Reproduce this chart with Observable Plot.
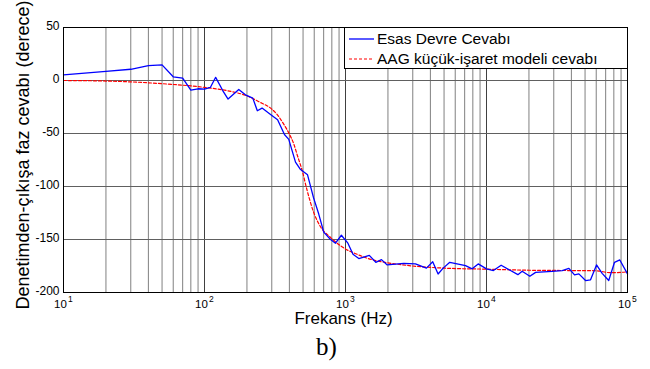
<!DOCTYPE html>
<html>
<head>
<meta charset="utf-8">
<script src="https://cdn.jsdelivr.net/npm/d3@7"></script>
<script src="https://cdn.jsdelivr.net/npm/@observablehq/plot@0.6"></script>
<style>
  body { margin: 0; background: #fff; }
  #wrap { position: relative; width: 650px; height: 369px; font-family: "Liberation Sans", Arial, sans-serif; }
  #legend { position: absolute; left: 344px; top: 27px; width: 282px; height: 40px; border: 1px solid #000; background: #fff; font-size: 15.5px; color: #000; }
  .row { position: absolute; left: 0; height: 20px; width: 100%; }
  .row svg { position: absolute; left: 4px; top: 0; }
  .row span { position: absolute; left: 32px; top: 1px; line-height: 18px; white-space: nowrap; }
</style>
</head>
<body>
<div id="wrap">
  <div id="chart"></div>
  <div id="legend"></div>
</div>
<script>
// ---- data ----
const blueFreq = [10, 20, 30, 40, 50, 60, 70, 80, 90, 100, 110, 120, 135, 147, 175, 195, 220, 237, 256, 294, 330, 346, 369, 396, 442, 480, 538, 593, 646, 701, 783, 849, 935, 1040, 1130, 1243, 1475, 1640, 1800, 1977, 2590, 3134, 3750, 4155, 4537, 4927, 5490, 7100, 7915, 8730, 10000, 11200, 12700, 14800, 16700, 17900, 20300, 22300, 29200, 34400, 38400, 42100, 45200, 50400, 54700, 60300, 66100, 73600, 80900, 88200, 100000];
const blueVal = [5.3, 8.6, 10.6, 14.0, 14.7, 3.5, 2.2, -9.0, -7.8, -8.2, -6.6, 3.0, -9.7, -17.5, -8.5, -13.5, -16.6, -28.5, -26, -32, -37, -43, -51, -55.5, -77, -84, -89, -110.5, -126, -143, -150, -153.5, -146, -153.5, -164, -168, -165, -171.5, -169, -174, -172.5, -173, -177, -171, -182.5, -177, -171.5, -174.6, -177.7, -173, -177.7, -179.3, -174.3, -179.3, -183.2, -180, -184.7, -181, -180, -179.3, -177.2, -183.4, -182.4, -188.7, -188, -174, -181.9, -188.7, -171.5, -169.3, -182.4];

const redFreq = [10, 20, 50, 100, 150, 200, 243, 300, 327, 360, 396, 430, 454, 493, 535, 597, 665, 783, 973, 1210, 1585, 2000, 3000, 5000, 10000, 20000, 40000, 60000, 75000, 90000, 100000];
const redVal = [0, -0.5, -3, -6.5, -10, -14.5, -20, -27, -32, -40, -49.5, -60, -70, -85, -104, -125, -138, -148, -158, -164, -169.5, -172, -175, -177, -178, -179, -179.3, -179.5, -181.3, -181, -180.5];

const yTicks = [-200, -150, -100, -50, 0, 50];
const xDecades = [10, 100, 1000, 10000, 100000];
const xExponents = ["1", "2", "3", "4", "5"];
const minorMult = [2, 3, 4, 5, 6, 7, 8, 9];

const seriesNames = ["Esas Devre Cevabı", "AAG küçük-işaret modeli cevabı"];
const xLabel = "Frekans (Hz)";
const yLabel = "Denetimden-çıkışa faz cevabı (derece)";
const caption = "b)";

// ---- build tables ----
const blue = blueFreq.map((f, i) => ({f, v: blueVal[i]}));
const red = redFreq.map((f, i) => ({f, v: redVal[i]}));
const minorGrid = xDecades.slice(0, -1).flatMap(d => minorMult.map(m => d * m));

const font = "'Liberation Sans', Arial, sans-serif";

const chart = Plot.plot({
  width: 650,
  height: 369,
  marginTop: 27,
  marginBottom: 77,
  marginLeft: 63,
  marginRight: 23,
  style: {fontFamily: font, background: "#fff", color: "#000"},
  x: {type: "log", domain: [10, 1e5], axis: null},
  y: {domain: [-200, 50], axis: null},
  marks: [
    Plot.ruleX(minorGrid, {x: d => d, stroke: "#808080", strokeWidth: 1}),
    Plot.ruleX(xDecades, {x: d => d, stroke: "#404040", strokeWidth: 1}),
    Plot.ruleY(yTicks, {y: d => d, stroke: "#606060", strokeWidth: 1}),
    Plot.line(red, {x: "f", y: "v", stroke: "#ff0000", strokeWidth: 1.2, strokeDasharray: "3,2", curve: "monotone-x"}),
    Plot.line(blue, {x: "f", y: "v", stroke: "#0000ff", strokeWidth: 1.3}),
    Plot.frame({stroke: "#000", strokeWidth: 1}),
    Plot.text(yTicks, {y: d => d, frameAnchor: "left", dx: -4, dy: -1, textAnchor: "end", text: d => String(d), fontSize: 12, fill: "#000"}),
    Plot.text(xDecades, {x: d => d, frameAnchor: "bottom", dx: -3, dy: 15, textAnchor: "middle", text: () => "10", fontSize: 11.5, fill: "#000"}),
    Plot.text(xDecades, {x: d => d, frameAnchor: "bottom", dx: 4.5, dy: 9, textAnchor: "start", text: (d, i) => xExponents[i], fontSize: 8.5, fill: "#000"}),
    Plot.text([xLabel], {frameAnchor: "bottom", dy: 31, dx: -2, textAnchor: "middle", text: d => d, fontSize: 17, fill: "#000"}),
    Plot.text([yLabel], {frameAnchor: "left", rotate: -90, dx: -40, dy: -5, textAnchor: "middle", text: d => d, fontSize: 18, fill: "#000"}),
    Plot.text([caption], {frameAnchor: "bottom", dx: -19, dy: 62, textAnchor: "middle", text: d => d, fontSize: 25, fontFamily: "'Liberation Serif', 'Times New Roman', serif", fill: "#000"})
  ]
});
document.getElementById("chart").appendChild(chart);

// ---- legend ----
const legend = document.getElementById("legend");
const styles = [{stroke: "#0000ff", dash: null, w: 1.3}, {stroke: "#ff0000", dash: "3,2", w: 1.2}];
seriesNames.forEach((name, i) => {
  const row = document.createElement("div");
  row.className = "row";
  row.style.top = (1 + i * 20) + "px";
  const s = styles[i];
  row.innerHTML = `<svg width="26" height="20"><line x1="0" x2="25" y1="10" y2="10" stroke="${s.stroke}" stroke-width="${s.w}" ${s.dash ? `stroke-dasharray="${s.dash}"` : ""}/></svg><span>${name}</span>`;
  legend.appendChild(row);
});
</script>
</body>
</html>
